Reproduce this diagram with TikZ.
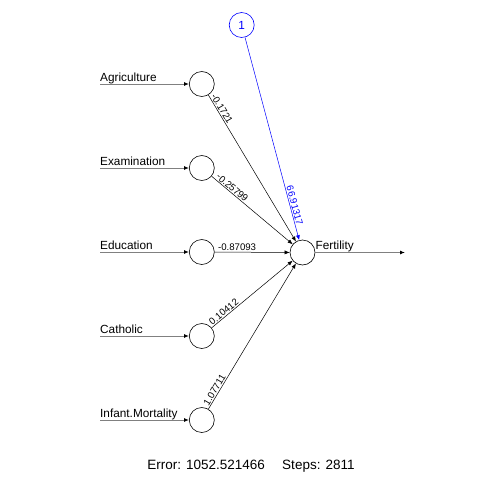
\documentclass[tikz,border=0pt]{standalone}
\usepackage{fontspec}
\setmainfont{Liberation Sans}
\usetikzlibrary{arrows.meta}
\tikzset{
  neuron/.style={draw, circle, minimum size=25pt, inner sep=0pt, line width=0.6pt},
  biasnode/.style={neuron, draw=blue, text=blue, font=\fontsize{11.8}{12}\selectfont},
  feed/.style={draw=gray, line width=0.9pt, -{Latex[length=5pt,width=4pt,black]}},
  weight/.style={line width=0.5pt, -{Latex[length=5pt,width=4pt]}},
  wlabel/.style={sloped, above, inner sep=1pt, font=\fontsize{9.6}{10}\selectfont},
  varname/.style={anchor=base west, inner sep=0pt, font=\fontsize{11.8}{12}\selectfont}
}
\begin{document}
\begin{tikzpicture}[x=1pt, y=-1pt]
\useasboundingbox (0,0) rectangle (504,504);
% Define the neurons
\node[neuron] (agri) at (201.8,84) {};
\node[neuron] (exam) at (201.8,168) {};
\node[neuron] (educ) at (201.8,252) {};
\node[neuron] (cath) at (201.8,336) {};
\node[neuron] (infm) at (201.8,420) {};
\node[neuron] (fert) at (302.5,252.5) {};
\node[biasnode] (bias) at (241.7,25) {1};
% Free ends of the input and output lines
\coordinate (agriIn) at (100,84);
\coordinate (examIn) at (100,168);
\coordinate (educIn) at (100,252);
\coordinate (cathIn) at (100,336);
\coordinate (infmIn) at (100,420);
\coordinate (fertOut) at (405,252.5);
% Draw the input and output lines
\draw[feed] (agriIn) -- (agri);
\draw[feed] (examIn) -- (exam);
\draw[feed] (educIn) -- (educ);
\draw[feed] (cathIn) -- (cath);
\draw[feed] (infmIn) -- (infm);
\draw[feed] (fert) -- (fertOut);
% Label the variables
\node[varname] at (100,81.5) {Agriculture};
\node[varname] at (100,165.5) {Examination};
\node[varname] at (100,249.5) {Education};
\node[varname] at (100,333.5) {Catholic};
\node[varname] at (100,417.5) {Infant.Mortality};
\node[varname] at (315.5,249.5) {Fertility};
% Draw the weighted connections
\draw[weight] (agri) -- node[wlabel, pos=0.11] {-0.1721} (fert);
\draw[weight] (exam) -- node[wlabel, pos=0.22] {-0.25799} (fert);
\draw[weight] (educ) -- node[wlabel, pos=0.30] {-0.87093} (fert);
\draw[weight] (cath) -- node[wlabel, pos=0.185] {0.10412} (fert);
\draw[weight] (infm) -- node[wlabel, pos=0.115] {1.07711} (fert);
\draw[weight, blue] (bias) -- node[wlabel, pos=0.835] {66.91317} (fert);
% Error and steps
\node[font=\fontsize{13.5}{14}\selectfont] (info) at (251,466) {Error: 1052.521466\quad\ Steps: 2811};
\end{tikzpicture}
\end{document}
